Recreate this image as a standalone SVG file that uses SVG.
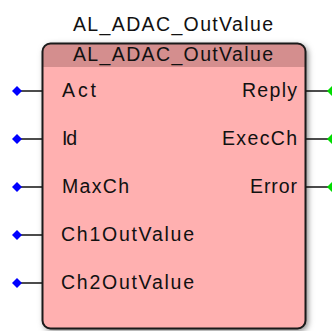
<svg xmlns="http://www.w3.org/2000/svg" width="332" height="331" viewBox="0 0 332 331">
  <style>
    .lbl { font-family: "Liberation Sans", Arial, sans-serif; font-size: 19.5px; fill: #111; }
    .wire { stroke: #111; stroke-width: 1.5; fill: none; }
    .pin-in { fill: #0000ff; }
    .pin-out { fill: #00dd00; }
  </style>
  <defs>
    <filter id="shadow" x="-10%" y="-10%" width="120%" height="120%">
      <feGaussianBlur in="SourceAlpha" stdDeviation="3" result="blur"/>
      <feOffset in="blur" dx="2" dy="2" result="off"/>
      <feFlood flood-color="#000" flood-opacity="0.55"/>
      <feComposite in2="off" operator="in" result="sh"/>
      <feMerge>
        <feMergeNode in="sh"/>
        <feMergeNode in="SourceGraphic"/>
      </feMerge>
    </filter>
    <clipPath id="boxClip">
      <rect x="42.5" y="43.5" width="263" height="285" rx="8"/>
    </clipPath>
  </defs>

  <rect width="332" height="331" fill="#fff"/>

  <!-- instance name above the block -->
  <text class="lbl" x="173" y="31" text-anchor="middle" textLength="200" lengthAdjust="spacing">AL_ADAC_OutValue</text>

  <!-- connectors: pin stubs -->
  <g id="connectors">
    <line class="wire" x1="20" y1="91" x2="42" y2="91"/>
    <line class="wire" x1="20" y1="139" x2="42" y2="139"/>
    <line class="wire" x1="20" y1="187" x2="42" y2="187"/>
    <line class="wire" x1="20" y1="235" x2="42" y2="235"/>
    <line class="wire" x1="20" y1="283" x2="42" y2="283"/>
    <line class="wire" x1="306" y1="91" x2="328" y2="91"/>
    <line class="wire" x1="306" y1="139" x2="328" y2="139"/>
    <line class="wire" x1="306" y1="187" x2="328" y2="187"/>
    <path class="pin-in" d="M17 86 L22 91 L17 96 L12 91 Z"/>
    <path class="pin-in" d="M17 134 L22 139 L17 144 L12 139 Z"/>
    <path class="pin-in" d="M17 182 L22 187 L17 192 L12 187 Z"/>
    <path class="pin-in" d="M17 230 L22 235 L17 240 L12 235 Z"/>
    <path class="pin-in" d="M17 278 L22 283 L17 288 L12 283 Z"/>
    <path class="pin-out" d="M332 86 L337 91 L332 96 L327 91 Z"/>
    <path class="pin-out" d="M332 134 L337 139 L332 144 L327 139 Z"/>
    <path class="pin-out" d="M332 182 L337 187 L332 192 L327 187 Z"/>
  </g>

  <!-- function block -->
  <g id="block">
    <rect x="42.5" y="43.5" width="263" height="285" rx="8" fill="#ffb0b0" filter="url(#shadow)"/>
    <rect x="42.5" y="43.5" width="263" height="23.5" fill="#d48e8e" clip-path="url(#boxClip)"/>
    <rect x="42.5" y="43.5" width="263" height="285" rx="8" fill="none" stroke="#1a1a1a" stroke-width="2"/>
    <text class="lbl" x="173" y="61" text-anchor="middle" textLength="200" lengthAdjust="spacing">AL_ADAC_OutValue</text>

    <text class="lbl" x="62" y="97" textLength="34" lengthAdjust="spacing">Act</text>
    <text class="lbl" x="62" y="145" textLength="15" lengthAdjust="spacing">Id</text>
    <text class="lbl" x="62" y="193" textLength="67" lengthAdjust="spacing">MaxCh</text>
    <text class="lbl" x="61" y="241" textLength="133" lengthAdjust="spacing">Ch1OutValue</text>
    <text class="lbl" x="61" y="289" textLength="133" lengthAdjust="spacing">Ch2OutValue</text>

    <text class="lbl" x="297" y="97" text-anchor="end" textLength="55" lengthAdjust="spacing">Reply</text>
    <text class="lbl" x="297" y="145" text-anchor="end" textLength="75" lengthAdjust="spacing">ExecCh</text>
    <text class="lbl" x="297" y="193" text-anchor="end" textLength="47" lengthAdjust="spacing">Error</text>
  </g>
</svg>
